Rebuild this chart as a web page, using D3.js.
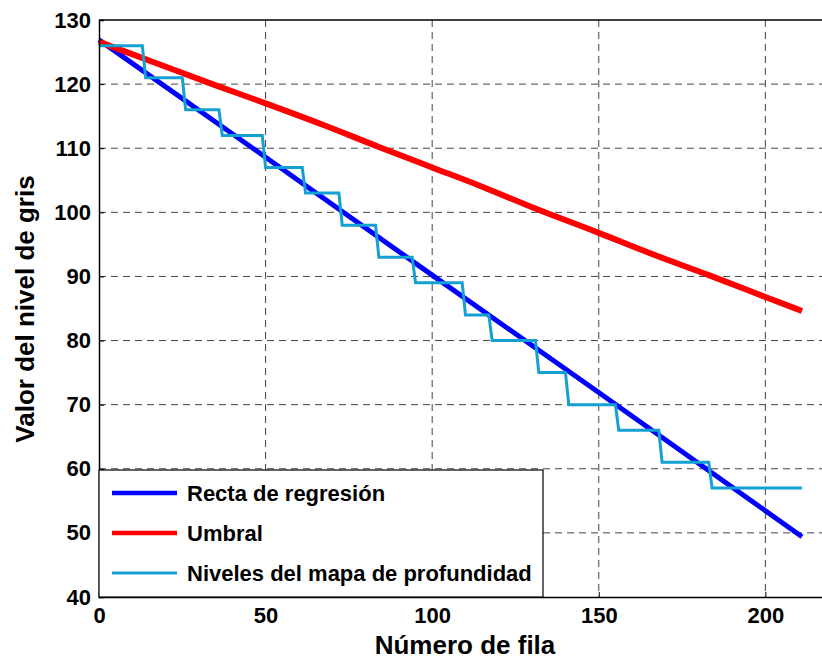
<!DOCTYPE html>
<html>
<head>
<meta charset="utf-8">
<script src="https://cdn.jsdelivr.net/npm/d3@7"></script>
<style>
  body { margin: 0; background: #fff; }
  svg { display: block; font-family: "Liberation Sans", Arial, sans-serif; }
</style>
</head>
<body>
<svg id="chart" width="822" height="664"></svg>
<script>
// row number (x) and grey level (y)
var regRows = [0, 50, 100, 150, 211];
var regVals = [126.9, 108.6, 90.2, 71.9, 49.4];

var umbralRows = [0, 17, 34, 50, 67, 84, 100, 115, 130, 150, 165, 183, 200, 211];
var umbralVals = [126.6, 123.3, 120.0, 117.0, 113.7, 110.2, 107.0, 104.0, 100.8, 96.8, 93.7, 90.2, 86.8, 84.6];

var nivelRows = [0, 13, 14, 25, 26, 36, 37, 49, 50, 61, 62, 72, 73, 83, 84, 94, 95, 109, 110, 117, 118, 131, 132, 140, 141, 155, 156, 168, 169, 183, 184, 211];
var nivelVals = [126, 126, 121, 121, 116, 116, 112, 112, 107, 107, 103, 103, 98, 98, 93, 93, 89, 89, 84, 84, 80, 80, 75, 75, 70, 70, 66, 66, 61, 61, 57, 57];

var xTicks = [0, 50, 100, 150, 200];
var yTicks = [40, 50, 60, 70, 80, 90, 100, 110, 120, 130];

var seriesNames = ["Recta de regresión", "Umbral", "Niveles del mapa de profundidad"];
var seriesColors = ["#0000ff", "#ff0000", "#14a0d2"];
var seriesWidths = [5, 6, 3];

var margin = {left: 99, top: 20};
var width = 733, height = 577;

var svg = d3.select("#chart");
var g = svg.append("g").attr("transform", "translate(" + margin.left + "," + margin.top + ")");

var xScale = d3.scaleLinear().domain([0, 220]).range([0, width]);
var yScale = d3.scaleLinear().domain([40, 130]).range([height, 0]);

// grid
g.append("g")
    .selectAll("line")
    .data(xTicks.filter(function (d) { return d > 0; }))
    .enter().append("line")
    .attr("x1", function (d) { return xScale(d); })
    .attr("x2", function (d) { return xScale(d); })
    .attr("y1", 0).attr("y2", height)
    .attr("stroke", "#444").attr("stroke-width", 1)
    .attr("stroke-dasharray", "7,5");

g.append("g")
    .selectAll("line")
    .data(yTicks.filter(function (d) { return d > 40 && d < 130; }))
    .enter().append("line")
    .attr("x1", 0).attr("x2", width)
    .attr("y1", function (d) { return yScale(d); })
    .attr("y2", function (d) { return yScale(d); })
    .attr("stroke", "#444").attr("stroke-width", 1)
    .attr("stroke-dasharray", "7,5");

var line = d3.line()
    .x(function (d) { return xScale(d[0]); })
    .y(function (d) { return yScale(d[1]); });

var smoothLine = d3.line()
    .curve(d3.curveMonotoneX)
    .x(function (d) { return xScale(d[0]); })
    .y(function (d) { return yScale(d[1]); });

var series = [
    d3.zip(regRows, regVals),
    d3.zip(umbralRows, umbralVals),
    d3.zip(nivelRows, nivelVals)
];

series.forEach(function (s, i) {
    g.append("path")
        .datum(s)
        .attr("fill", "none")
        .attr("stroke", seriesColors[i])
        .attr("stroke-width", seriesWidths[i])
        .attr("d", i === 1 ? smoothLine : line);
});

// axes
var xAxis = g.append("g")
    .attr("transform", "translate(0," + height + ")")
    .call(d3.axisBottom(xScale).tickValues(xTicks).tickSize(-5).tickPadding(10));
var yAxis = g.append("g")
    .call(d3.axisLeft(yScale).tickValues(yTicks).tickSize(-5).tickPadding(8));

[xAxis, yAxis].forEach(function (a) {
    a.select(".domain").attr("stroke", "#000").attr("stroke-width", 1.5);
    a.selectAll(".tick line").attr("stroke", "#000");
    a.selectAll(".tick text")
        .attr("fill", "#000")
        .style("font-family", "'Liberation Sans', Arial, sans-serif")
        .style("font-size", "22px")
        .style("font-weight", "bold");
});

// top border
g.append("line")
    .attr("x1", 0).attr("x2", width)
    .attr("y1", 0).attr("y2", 0)
    .attr("stroke", "#000").attr("stroke-width", 1.5);

// legend
var legend = g.append("g");
legend.append("rect")
    .attr("x", 0).attr("y", 450)
    .attr("width", 444).attr("height", 127)
    .attr("fill", "#fff").attr("stroke", "#000").attr("stroke-width", 1.2);

seriesNames.forEach(function (name, i) {
    var ly = 473 + i * 40;
    legend.append("line")
        .attr("x1", 13).attr("x2", 78)
        .attr("y1", ly).attr("y2", ly)
        .attr("stroke", seriesColors[i])
        .attr("stroke-width", Math.min(seriesWidths[i], 4.5));
    legend.append("text")
        .attr("x", 88).attr("y", ly + 8)
        .attr("font-size", "22px")
        .attr("font-weight", "bold")
        .attr("fill", "#000")
        .text(name);
});

// axis titles
svg.append("text")
    .attr("x", 465).attr("y", 654)
    .attr("text-anchor", "middle")
    .attr("font-size", "26px").attr("font-weight", "bold")
    .text("Número de fila");

svg.append("text")
    .attr("transform", "translate(34,309) rotate(-90)")
    .attr("text-anchor", "middle")
    .attr("font-size", "26px").attr("font-weight", "bold")
    .text("Valor del nivel de gris");
</script>
</body>
</html>
